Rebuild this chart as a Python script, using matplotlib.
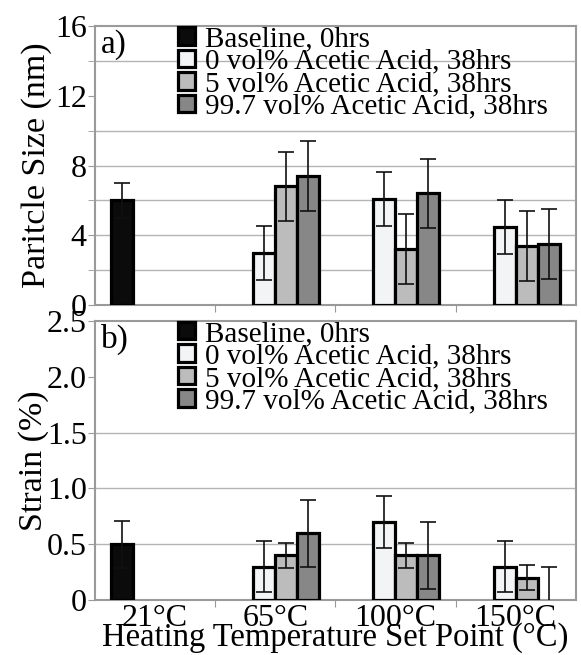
import matplotlib
matplotlib.use('Agg')
import matplotlib.pyplot as plt
import numpy as np

plt.rcParams['font.family'] = ['Liberation Serif', 'DejaVu Serif']

temps = ['21°C', '65°C', '100°C', '150°C']
series = ['Baseline, 0hrs', '0 vol% Acetic Acid, 38hrs',
          '5 vol% Acetic Acid, 38hrs', '99.7 vol% Acetic Acid, 38hrs']
colors = ['#0b0b0b', '#f3f4f6', '#bcbcbc', '#878787']

# particle size (nm), per series across the 4 temperatures (nan = no bar)
size_base = [6.0, np.nan, np.nan, np.nan]
size_0 = [np.nan, 3.0, 6.1, 4.5]
size_5 = [np.nan, 6.8, 3.2, 3.4]
size_99 = [np.nan, 7.4, 6.4, 3.5]
size_err_base = [1.0, 0, 0, 0]
size_err_0 = [0, 1.55, 1.55, 1.55]
size_err_5 = [0, 2.0, 2.0, 2.0]
size_err_99 = [0, 2.0, 2.0, 2.0]

# strain (%)
strain_base = [0.5, np.nan, np.nan, np.nan]
strain_0 = [np.nan, 0.3, 0.7, 0.3]
strain_5 = [np.nan, 0.4, 0.4, 0.2]
strain_99 = [np.nan, 0.6, 0.4, 0.0]
strain_err_base = [0.21, 0, 0, 0]
strain_err_0 = [0, 0.23, 0.23, 0.23]
strain_err_5 = [0, 0.115, 0.115, 0.115]
strain_err_99 = [0, 0.3, 0.3, 0.3]

size_ticks = [0, 4, 8, 12, 16]
size_ticklabels = ['0', '4', '8', '12', '16']
size_grid = [2, 4, 6, 8, 10, 14]   # 12 is hidden behind the legend
strain_ticks = [0, 0.5, 1.0, 1.5, 2.0, 2.5]
strain_ticklabels = ['0', '0.5', '1.0', '1.5', '2.0', '2.5']
strain_grid = [0.5, 1.0, 1.5]       # 2.0 is hidden behind the legend

fig = plt.figure(figsize=(5.81, 6.55), dpi=100)
ax1 = fig.add_axes([0.1635, 0.5344, 0.8275, 0.4256])
ax2 = fig.add_axes([0.1635, 0.0840, 0.8275, 0.4259])

x = np.arange(len(temps))
w = 0.183


def draw(ax, vals, errs, ymax, ticks, ticklabels, minor_step, grid):
    for i, (v, e) in enumerate(zip(vals, errs)):
        v = np.array(v, dtype=float)
        e = np.array(e, dtype=float)
        xs = x + (i - 1.5) * w
        ok = ~np.isnan(v)
        lw = [2.3 if val > 0 else 0 for val in v[ok]]
        ax.bar(xs[ok], v[ok], w, color=colors[i], edgecolor='black',
               linewidth=lw, label=series[i], zorder=3)
        ax.errorbar(xs[ok], v[ok], yerr=e[ok], fmt='none', ecolor='#111111',
                    elinewidth=1.2, capsize=6, capthick=1.2, zorder=4)
    ax.set_xlim(-0.5, 3.5)
    ax.set_ylim(0, ymax)
    for g in grid:
        ax.axhline(g, color='#b4b4b4', linewidth=1.0, zorder=0)
    ax.set_yticks(ticks)
    ax.set_yticklabels(ticklabels)
    ax.set_yticks(np.arange(0, ymax + 1e-9, minor_step), minor=True)
    ax.set_xticks([0.5, 1.5, 2.5], minor=False)
    ax.set_xticks(x, minor=True)
    ax.tick_params(axis='x', which='major', length=5, color='#999999',
                   labelbottom=False)
    ax.tick_params(axis='x', which='minor', length=0, labelsize=23, pad=3)
    ax.tick_params(axis='y', which='both', length=5, color='#999999',
                   labelsize=23, pad=1)
    for s in ax.spines.values():
        s.set_color('#9a9a9a')
        s.set_linewidth(1.5)
    leg = ax.legend(loc='upper left', bbox_to_anchor=(0.172, 1.0),
                    fontsize=21, frameon=False,
                    handlelength=0.6, handleheight=0.55,
                    handletextpad=0.35, labelspacing=-0.12, borderpad=0.0,
                    borderaxespad=0.0)
    leg.set_zorder(5)


draw(ax1, [size_base, size_0, size_5, size_99],
     [size_err_base, size_err_0, size_err_5, size_err_99],
     16, size_ticks, size_ticklabels, 2, size_grid)
draw(ax2, [strain_base, strain_0, strain_5, strain_99],
     [strain_err_base, strain_err_0, strain_err_5, strain_err_99],
     2.5, strain_ticks, strain_ticklabels, 0.5, strain_grid)

ax2.set_xticklabels(temps, minor=True)

ax1.set_ylabel('Paritcle Size (nm)', fontsize=24.5, labelpad=2)
ax2.set_ylabel('Strain (%)', fontsize=24.5, labelpad=-2)
ax2.set_xlabel('Heating Temperature Set Point (°C)', fontsize=23.5,
               labelpad=-8)

ax1.text(0.012, 0.99, 'a)', transform=ax1.transAxes, fontsize=24,
         va='top', ha='left', zorder=6)
ax2.text(0.012, 0.99, 'b)', transform=ax2.transAxes, fontsize=24,
         va='top', ha='left', zorder=6)

fig.savefig('out.png', dpi=100)
